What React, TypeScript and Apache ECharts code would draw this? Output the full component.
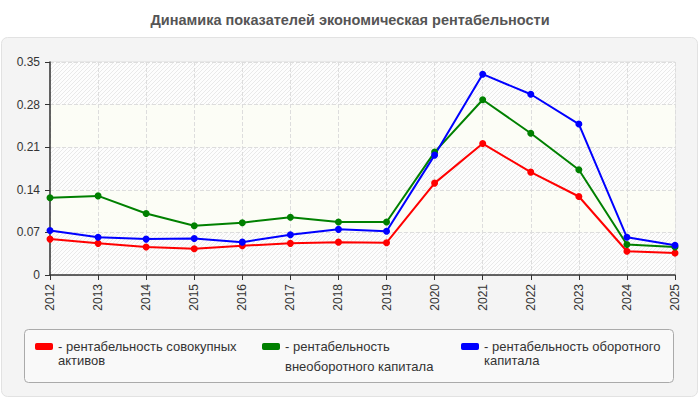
import React, { useEffect, useRef } from "react";
import * as echarts from "echarts";

const years = ["2012", "2013", "2014", "2015", "2016", "2017", "2018", "2019", "2020", "2021", "2022", "2023", "2024", "2025"];
const totalAssets = [0.059, 0.052, 0.046, 0.043, 0.048, 0.052, 0.054, 0.053, 0.151, 0.216, 0.169, 0.129, 0.039, 0.036];
const nonCurrentCapital = [0.127, 0.13, 0.101, 0.081, 0.086, 0.095, 0.087, 0.087, 0.202, 0.288, 0.233, 0.173, 0.05, 0.046];
const currentCapital = [0.073, 0.062, 0.059, 0.06, 0.054, 0.066, 0.075, 0.072, 0.197, 0.33, 0.297, 0.248, 0.062, 0.049];
const seriesNames = [
  "рентабельность совокупных активов",
  "рентабельность внеоборотного капитала",
  "рентабельность оборотного капитала",
];
const legendLabels = [
  "- рентабельность совокупных\nактивов",
  "- рентабельность\nвнеоборотного капитала",
  "- рентабельность оборотного\nкапитала",
];
const colors = ["#ff0000", "#008000", "#0000ff"];
const chartTitle = "Динамика показателей экономическая рентабельности";

const FONT = "Arial, 'Liberation Sans', sans-serif";

// diagonal hatch used for every other horizontal band
function hatchPattern(): string {
  const size = 4;
  const c = document.createElement("canvas");
  c.width = size;
  c.height = size;
  const ctx = c.getContext("2d")!;
  ctx.fillStyle = "#fdfdfd";
  ctx.fillRect(0, 0, size, size);
  ctx.fillStyle = "#e9e9e9";
  for (let x = 0; x < size; x++) {
    for (let y = 0; y < size; y++) {
      if ((x + y) % size === size - 1) ctx.fillRect(x, y, 1, 1);
    }
  }
  return c.toDataURL();
}

const App: React.FC = () => {
  const chartRef = useRef<HTMLDivElement>(null);

  useEffect(() => {
    document.body.style.margin = "0";
    if (!chartRef.current) return;
    const chart = echarts.init(chartRef.current, undefined, { renderer: "svg" });

    const data = [totalAssets, nonCurrentCapital, currentCapital];
    // an empty first line keeps the first text line level with the swatch
    const legendLayout = [
      { left: 35, lineHeight: 14 },
      { left: 262, lineHeight: 20 },
      { left: 461, lineHeight: 14 },
    ];
    const iconTop = 343;

    const option = {
      animation: false,
      title: {
        text: chartTitle,
        left: "center",
        top: 7,
        textStyle: { fontFamily: FONT, fontSize: 14.5, fontWeight: "bold", color: "#555" },
      },
      graphic: [
        {
          type: "rect",
          z: -10,
          silent: true,
          shape: { x: 1.5, y: 37.5, width: 696, height: 359, r: 6 },
          style: { fill: "#f4f4f4", stroke: "#e2e2e2", lineWidth: 1 },
        },
        {
          type: "rect",
          z: -9,
          silent: true,
          shape: { x: 24.5, y: 329.5, width: 649, height: 53, r: 4 },
          style: { fill: "#f9f9f9", stroke: "#aaaaaa", lineWidth: 1 },
        },
      ],
      legend: legendLayout.map((l, i) => ({
        data: [{ name: seriesNames[i], icon: "roundRect" }],
        left: l.left,
        top: iconTop + 3.5 - 1.5 * l.lineHeight,
        padding: 0,
        itemWidth: 18,
        itemHeight: 7,
        selectedMode: false,
        formatter: () => "\n" + legendLabels[i],
        textStyle: {
          fontFamily: FONT,
          fontSize: 13,
          color: "#333",
          lineHeight: l.lineHeight,
        },
      })),
      grid: {
        left: 50,
        right: 25,
        top: 62,
        bottom: 125,
        show: true,
        borderColor: "#dddddd",
        borderWidth: 1,
        backgroundColor: "transparent",
      },
      xAxis: {
        type: "category",
        data: years,
        boundaryGap: false,
        axisLine: { lineStyle: { color: "#333", width: 1.5 } },
        axisTick: { show: true, length: 5, lineStyle: { color: "#333" } },
        axisLabel: { rotate: 90, margin: 9, fontFamily: FONT, fontSize: 12, color: "#333" },
        splitLine: { show: true, lineStyle: { color: "#dddddd", type: "dashed" } },
      },
      yAxis: {
        type: "value",
        min: 0,
        max: 0.35,
        interval: 0.07,
        axisLine: { show: true, lineStyle: { color: "#333", width: 1.5 } },
        axisTick: { show: true, length: 5, lineStyle: { color: "#333" } },
        axisLabel: {
          margin: 10,
          fontFamily: FONT,
          fontSize: 12,
          color: "#333",
          formatter: (v: number) => String(Number(v.toFixed(2))),
        },
        splitLine: { show: true, lineStyle: { color: "#dddddd", type: "dashed" } },
        splitArea: {
          show: true,
          areaStyle: {
            color: [{ image: hatchPattern(), repeat: "repeat" }, "#fcfdf6"],
          },
        },
      },
      series: data.map((values, i) => ({
        name: seriesNames[i],
        type: "line",
        data: values,
        color: colors[i],
        symbol: "circle",
        symbolSize: 7,
        lineStyle: { width: 2, color: colors[i] },
        itemStyle: { color: colors[i] },
      })),
    };

    chart.setOption(option as any);
    return () => {
      chart.dispose();
    };
  }, []);

  return (
    <div
      ref={chartRef}
      style={{ position: "absolute", left: 0, top: 0, width: "700px", height: "400px", background: "#fff" }}
    />
  );
};

export default App;
